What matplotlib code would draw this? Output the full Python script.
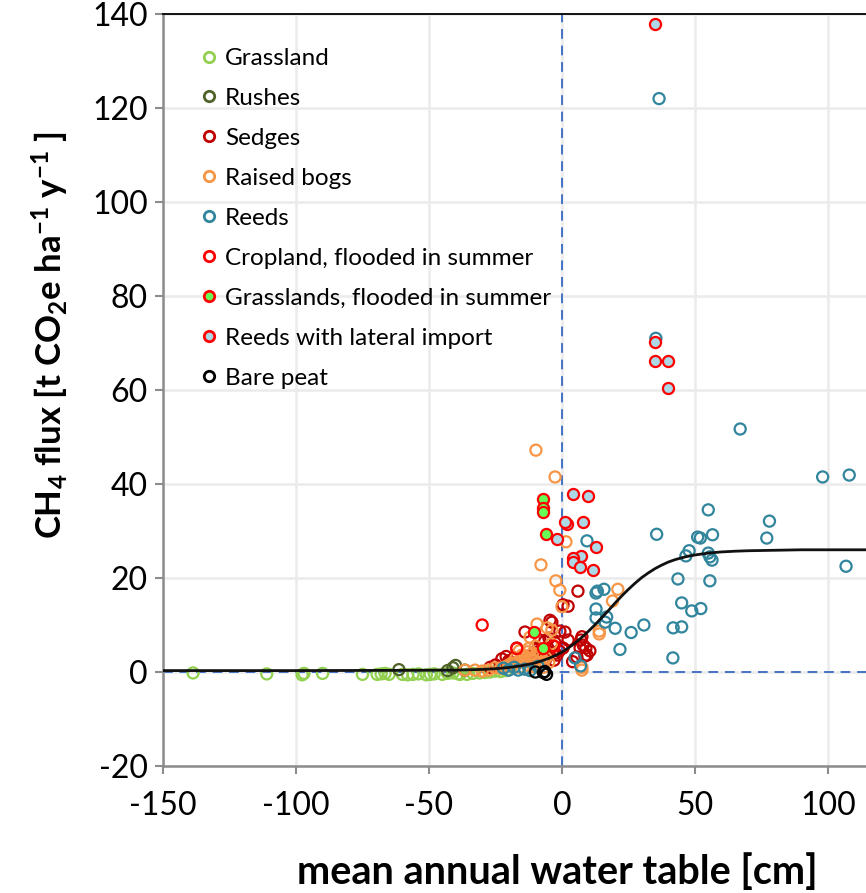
import matplotlib
matplotlib.use("Agg")
import matplotlib.pyplot as plt
from matplotlib.lines import Line2D

# ---------------- data ----------------
grass_x = [-138.7, -111, -97.7, -97, -90, -75, -69.5, -68, -66.5, -65, -60, -58, -56, -54,
           -51, -49.5, -48, -45, -43, -41, -39, -38.3, -35.7, -33.5, -31, -29, -27, -25, -23, -21]
grass_y = [-0.2, -0.4, -0.6, -0.3, -0.3, -0.5, -0.5, -0.4, -0.3, -0.5, -0.5, -0.6, -0.5, -0.4,
           -0.6, -0.5, -0.4, -0.5, -0.3, -0.2, -0.4, -0.5, -0.5, -0.3, -0.2, -0.1, 0.0, 0.2, 0.1, 0.3]

rush_x = [-61.3, -41, -40, -36.5, -43]
rush_y = [0.5, 0.9, 1.4, 0.4, 0.3]

sedge_x = [6, 2.3, 0.4, -3.8, -0.8, 7.1, 8, 9, 6.8, 8.6, 5.6, 0.4, -2.6, -4.9, -17, -22.6, -8.3,
           9.4, -4.5, 1.1, -13.9, -19.5, -2.6, 0, -5.3, -1.9, 2.3, -12, -15, -10, -7, -25, -20,
           -27, 10.5, 7.5, 4, -6, -11, -21, -18, -16, -9, -6.5, -3, -1]
sedge_y = [17.2, 14, 14.3, 10.6, 8.7, 6.8, 5.7, 5.1, 5.1, 3.4, 3.2, 5.1, 4, 7.2, 5.1, 2.8, 6.8,
           3.6, 11, 8.5, 8.5, 2.1, 6.2, 5.1, 5.1, 3.6, 6.8, 3.5, 2.5, 4.2, 3.8, 1.5, 2.4,
           1.0, 4.5, 7.5, 2.2, 2.8, 1.8, 3.3, 3.0, 2.2, 5.0, 6.5, 2.5, 4.5]

bog_x = [-9.8, -2.6, 1.5, -7.9, -2.3, -0.8, 0, 21, 19, 14, 14, 7.5, 7.5, -3.8, -9.4, -5.6, -12,
         -15, -13, -12, -11, -14, -15.8, -18.8, -21.4, -25.2, -27.8, -32.7, -36.5, -20, -17, -10,
         -8, -6, -4, -23, -30, -16, -11, -7, -16, -14.5, -12.5, -11, -9, -8.5, -10, -13, -17.5,
         -19, -7, -5]
bog_y = [47.2, 41.5, 27.7, 22.8, 19.4, 17.4, 13.9, 17.6, 15.1, 8.7, 8.1, 1.0, 0.4, 8.9, 10.2, 9.4, 7.4,
         3.6, 4.3, 3.0, 2.6, 2.6, 2.1, 1.9, 1.1, 0.9, 0.4, 0.4, 0.4, 1.5, 2.0, 5.5,
         4.0, 3.0, 6.0, 0.8, 0.2, 1.0, 1.5, 2.0, 4.5, 3.5, 5.0, 4.0, 3.5, 2.0, 1.0, 1.5, 2.8,
         1.2, 1.0, 2.0]

reed_x = [36.5, 35.3, 67, 98, 108, 55, 78, 35.6, 51, 52, 56.6, 77, 47.8, 46.6, 55, 55.6, 56.4,
          106.8, 43.6, 55.6, 45, 48.8, 52.2, 41.8, 45, 30.8, 26, 20, 21.8, 41.7, 12.8, 13.3, 15.8,
          12.8, 12.8, 16.8, 16.2, 9.4, 4.9, 7, -20, -16.5, -18, -14, -22, -12, -9]
reed_y = [122, 71, 51.7, 41.5, 41.9, 34.5, 32.1, 29.3, 28.7, 28.5, 29.2, 28.5, 25.8, 24.7, 25.3, 24.5, 23.8,
          22.5, 19.8, 19.4, 14.7, 13, 13.5, 9.4, 9.6, 10, 8.4, 9.3, 4.8, 3, 16.8, 17.2, 17.6,
          13.4, 11.5, 11.7, 10.6, 27.9, 3, 1.3, 0.4, 0.4, 1.0, 0.6, 0.8, 0.3, 1.2]

crop_x = [-30, -17, -3]
crop_y = [10, 5.0, 5.5]

gflood_x = [-7.2, -7.2, -7.2, -6, -10.5, -7.2]
gflood_y = [36.8, 34.9, 34, 29.4, 8.5, 5.1]

lateral_x = [35, 35, 35, 40, 40, 4.2, 9.9, 2, 1.2, 7.9, -1.8, 12.9, 7.2, 4.2, 4.2, 6.9, 11.7]
lateral_y = [137.9, 70.2, 66.2, 66.2, 60.4, 37.9, 37.5, 31.5, 31.9, 31.9, 28.3, 26.6, 24.7, 24.2, 23.3, 22.4, 21.7]

peat_x = [-10, -7, -5.8, -6.5]
peat_y = [0.0, -0.1, -0.5, 0.1]

# fitted curve
curve_x = [-150, -100, -60, -40, -30, -25, -20, -15, -10, -7.5, -5, -2.5, 0, 2.5, 5, 7.5, 10,
           12.5, 15, 17.5, 20, 22.5, 25, 27.5, 30, 32.5, 35, 37.5, 40, 42.5, 45, 47.5, 50,
           55, 60, 65, 70, 80, 90, 100, 115]
curve_y = [0.3, 0.3, 0.35, 0.4, 0.55, 0.7, 0.95, 1.35, 1.95, 2.4, 2.9, 3.5, 4.25, 5.15, 6.2,
           7.4, 8.7, 10.1, 11.6, 13.1, 14.7, 16.2, 17.6, 18.9, 20.1, 21.1, 22.0, 22.75, 23.4,
           23.9, 24.3, 24.65, 24.9, 25.3, 25.55, 25.7, 25.8, 25.9, 26.0, 26.0, 26.0]

labels = ["Grassland", "Rushes", "Sedges", "Raised bogs", "Reeds",
          "Cropland, flooded in summer", "Grasslands, flooded in summer",
          "Reeds with lateral import", "Bare peat"]
x_ticks = [-150, -100, -50, 0, 50, 100]
y_ticks = [-20, 0, 20, 40, 60, 80, 100, 120, 140]

# ---------------- style ----------------
plt.rcParams['font.family'] = ['Lato', 'DejaVu Sans']
plt.rcParams['mathtext.fontset'] = 'custom'
plt.rcParams['mathtext.rm'] = 'Lato:bold'
plt.rcParams['mathtext.it'] = 'Lato:bold'
plt.rcParams['mathtext.bf'] = 'Lato:bold'

W, H = 866, 893
fig = plt.figure(figsize=(W / 100, H / 100), dpi=100)
ax = fig.add_axes([163 / W, (H - 766) / H, (W - 163) / W, (766 - 14) / H])

ax.set_xlim(-150, 114.3)
ax.set_ylim(-20, 140)
ax.set_xticks(x_ticks)
ax.set_yticks(y_ticks)
ax.set_xticklabels([str(v) for v in x_ticks])
ax.set_yticklabels([str(v) for v in y_ticks])
ax.grid(True, color='#EBEBEB', lw=1.8, zorder=0)
ax.set_axisbelow(True)

ax.spines['right'].set_visible(False)
ax.spines['top'].set_color('black')
ax.spines['top'].set_linewidth(1.3)
for s in ['left', 'bottom']:
    ax.spines[s].set_color('#8C8C8C')
    ax.spines[s].set_linewidth(1.8)

ax.tick_params(axis='both', direction='out', length=6, width=1.5, color='#8C8C8C',
               labelsize=23, labelcolor='black')
ax.tick_params(axis='x', pad=12)
ax.tick_params(axis='y', pad=5)

# reference dashed lines
dash_col = '#4472C4'
ax.axvline(0, color=dash_col, lw=1.4, ls=(0, (5, 3.5)), zorder=1)
ax.axhline(0, color=dash_col, lw=1.4, ls=(0, (5, 3.5)), zorder=1)

ms = 64
lw = 1.6
ax.scatter(grass_x, grass_y, s=ms, facecolors='none', edgecolors='#92D050', linewidths=lw, zorder=3)
ax.scatter(rush_x, rush_y, s=ms, facecolors='none', edgecolors='#4F6228', linewidths=lw, zorder=3)
ax.scatter(sedge_x, sedge_y, s=ms, facecolors='none', edgecolors='#C00000', linewidths=lw, zorder=3)
ax.scatter(bog_x, bog_y, s=ms, facecolors='none', edgecolors='#F79646', linewidths=lw, zorder=3)
ax.scatter(reed_x, reed_y, s=ms, facecolors='none', edgecolors='#31859C', linewidths=lw, zorder=3)
ax.scatter(crop_x, crop_y, s=ms, facecolors='none', edgecolors='#FF0000', linewidths=lw, zorder=3)
ax.scatter(gflood_x, gflood_y, s=ms, facecolors='#66FF55', edgecolors='#FF0000', linewidths=lw, zorder=3)
ax.scatter(lateral_x, lateral_y, s=ms, facecolors='#ADD8E6', edgecolors='#FF0000', linewidths=lw, zorder=3)
ax.scatter(peat_x, peat_y, s=ms, facecolors='none', edgecolors='black', linewidths=lw, zorder=3)

ax.plot(curve_x, curve_y, color='#111111', lw=2.0, zorder=4, solid_capstyle='round')

# legend
styles = [('#92D050', 'white'), ('#4F6228', 'white'), ('#C00000', 'white'), ('#F79646', 'white'),
          ('#31859C', 'white'), ('#FF0000', 'white'), ('#FF0000', '#66FF55'),
          ('#FF0000', '#ADD8E6'), ('black', 'white')]
handles = [Line2D([], [], ls='none', marker='o', markersize=7.5, markeredgewidth=2.0,
                  markeredgecolor=ec, markerfacecolor=fc) for ec, fc in styles]
ax.legend(handles, labels, loc='upper left', bbox_to_anchor=(197 / W, 1 - 48 / H),
          bbox_transform=fig.transFigure, frameon=False, fontsize=17.5,
          handlelength=1.0, handletextpad=0.15, labelspacing=0.78,
          borderpad=0, borderaxespad=0)

fig.text(557 / W, 1 - 872 / H, 'mean annual water table [cm]', fontsize=28.5, fontweight='bold',
         ha='center', va='center')

fig.text(50 / W, 1 - 335 / H, r'CH$_4$ flux [t CO$_2$e ha$^{-1}$ y$^{-1}$ ]', rotation=90,
         fontsize=25, fontweight='bold', ha='center', va='center')

fig.savefig('out.png', dpi=100)
